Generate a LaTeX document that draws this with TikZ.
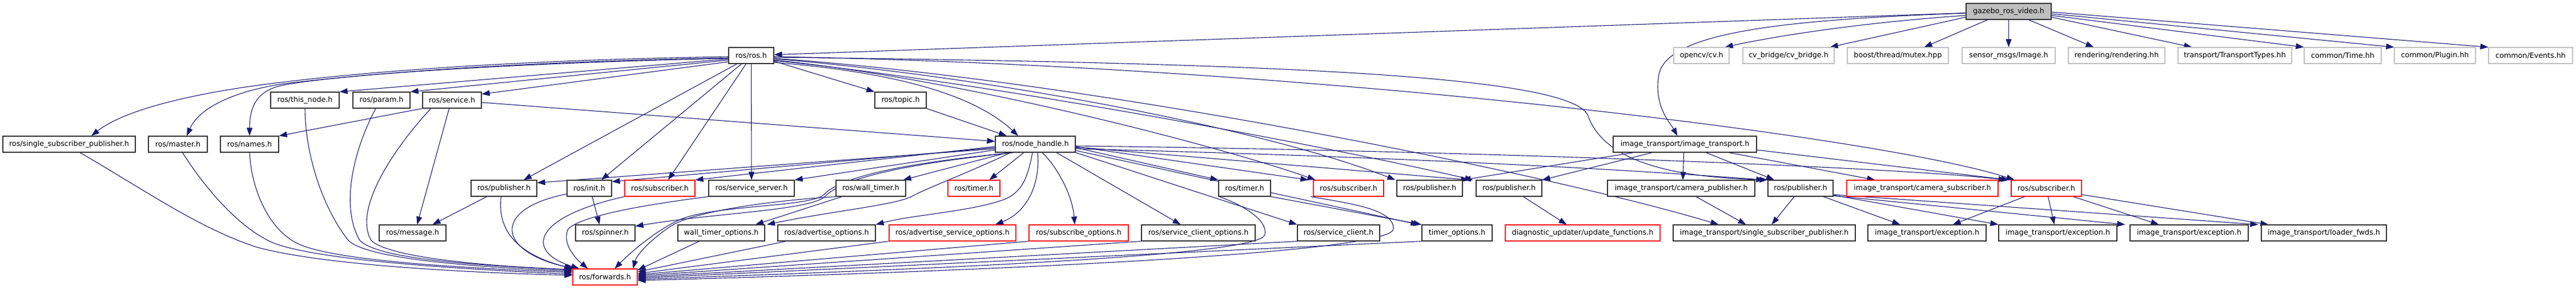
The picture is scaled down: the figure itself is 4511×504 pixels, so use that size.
\documentclass[tikz,border=0pt]{standalone}
\usepackage{fontspec}
\setmainfont{DejaVu Sans}
\usetikzlibrary{arrows.meta,backgrounds}
\definecolor{edgec}{HTML}{191970}
\definecolor{grayb}{HTML}{BFBFBF}
\tikzset{
 box/.style={draw=black!80, line width=1.2pt, rectangle, minimum height=28pt, inner sep=0pt, font=\fontsize{12.7}{15}\selectfont, text=black, fill=white},
 redbox/.style={box, draw=red},
 graybox/.style={box, draw=grayb},
 e/.style={draw=edgec, line width=1.1pt, -{Triangle[length=14pt,width=10pt]}},
}
\begin{document}
\begin{tikzpicture}[x=1pt,y=-1pt]
\useasboundingbox (0,0) rectangle (4511,504);
% row 0
\node[box, fill=grayb, minimum width=149pt] (gz) at (3517.5,20) {gazebo\_ros\_video.h};
% row 1
\node[box, minimum width=79pt] (ros) at (1315.5,97) {ros/ros.h};
\node[graybox, minimum width=97pt] (cv) at (2979.5,97) {opencv/cv.h};
\node[graybox, minimum width=160pt] (cvb) at (3132,97) {cv\_bridge/cv\_bridge.h};
\node[graybox, minimum width=177pt] (mtx) at (3323.5,97) {boost/thread/mutex.hpp};
\node[graybox, minimum width=163pt] (img) at (3517.5,97) {sensor\_msgs/Image.h};
\node[graybox, minimum width=169pt] (rend) at (3706.5,97) {rendering/rendering.hh};
\node[graybox, minimum width=199pt] (tt) at (3913.5,97) {transport/TransportTypes.hh};
\node[graybox, minimum width=135pt] (time) at (4102.5,97) {common/Time.hh};
\node[graybox, minimum width=142pt] (plug) at (4264,97) {common/Plugin.hh};
\node[graybox, minimum width=147pt] (ev) at (4431.5,97) {common/Events.hh};
% row 2
\node[box, minimum width=120pt] (tn) at (534,175) {ros/this\_node.h};
\node[box, minimum width=100pt] (par) at (668,175) {ros/param.h};
\node[box, minimum width=103pt] (srv) at (791.5,175) {ros/service.h};
\node[box, minimum width=90pt] (top) at (1577,175) {ros/topic.h};
% row 3
\node[box, minimum width=232pt] (ssp) at (121,252) {ros/single\_subscriber\_publisher.h};
\node[box, minimum width=103pt] (mas) at (311.5,252) {ros/master.h};
\node[box, minimum width=102pt] (nam) at (437,252) {ros/names.h};
\node[box, minimum width=140pt] (nh) at (1813,252) {ros/node\_handle.h};
\node[box, minimum width=251pt] (it) at (2950.5,252) {image\_transport/image\_transport.h};
% row 4
\node[box, minimum width=115pt] (pub1) at (882.5,329) {ros/publisher.h};
\node[box, minimum width=78pt] (ini) at (1032,329) {ros/init.h};
\node[redbox, minimum width=123pt] (sub1) at (1155.5,329) {ros/subscriber.h};
\node[box, minimum width=150pt] (ss) at (1316,329) {ros/service\_server.h};
\node[box, minimum width=122pt] (wt) at (1525,329) {ros/wall\_timer.h};
\node[redbox, minimum width=91pt] (tmr1) at (1705.5,329) {ros/timer.h};
\node[box, minimum width=91pt] (tmr2) at (2179.5,329) {ros/timer.h};
\node[redbox, minimum width=123pt] (sub2) at (2361.5,329) {ros/subscriber.h};
\node[box, minimum width=115pt] (pub2) at (2503.5,329) {ros/publisher.h};
\node[box, minimum width=115pt] (pub3) at (2642.5,329) {ros/publisher.h};
\node[box, minimum width=258pt] (cp) at (2944,329) {image\_transport/camera\_publisher.h};
\node[box, minimum width=114pt] (pub4) at (3153,329) {ros/publisher.h};
\node[redbox, minimum width=265pt] (cs) at (3366.5,329) {image\_transport/camera\_subscriber.h};
\node[redbox, minimum width=123pt] (sub3) at (3583.5,329) {ros/subscriber.h};
% row 5
\node[box, minimum width=117pt] (msg) at (722.5,407) {ros/message.h};
\node[box, minimum width=104pt] (spn) at (1060,407) {ros/spinner.h};
\node[box, minimum width=152pt] (wto) at (1263,407) {wall\_timer\_options.h};
\node[box, minimum width=171pt] (ao) at (1447.5,407) {ros/advertise\_options.h};
\node[redbox, minimum width=222pt] (aso) at (1668,407) {ros/advertise\_service\_options.h};
\node[redbox, minimum width=174pt] (so) at (1889,407) {ros/subscribe\_options.h};
\node[box, minimum width=199pt] (sco) at (2098.5,407) {ros/service\_client\_options.h};
\node[box, minimum width=144pt] (sc) at (2344,407) {ros/service\_client.h};
\node[box, minimum width=123pt] (to) at (2551.5,407) {timer\_options.h};
\node[redbox, minimum width=271pt] (duf) at (2771.5,407) {diagnostic\_updater/update\_functions.h};
\node[box, minimum width=319pt] (itssp) at (3089.5,407) {image\_transport/single\_subscriber\_publisher.h};
\node[box, minimum width=207pt] (ex1) at (3374.5,407) {image\_transport/exception.h};
\node[box, minimum width=207pt] (ex2) at (3603.5,407) {image\_transport/exception.h};
\node[box, minimum width=207pt] (ex3) at (3833.5,407) {image\_transport/exception.h};
\node[box, minimum width=219pt] (lf) at (4069.5,407) {image\_transport/loader\_fwds.h};
% row 6
\node[redbox, minimum width=113pt] (fw) at (1059.5,484) {ros/forwards.h};

\begin{scope}[on background layer]
% gazebo
\draw[e] (gz) -- (ros);
\draw[e] ([yshift=-7pt]gz.west) .. controls (3250,40) and (3100,65) .. ([xshift=-8pt]cv.north east);
\draw[e] ([yshift=-10pt]gz.west) -- ([xshift=-8pt]cvb.north east);
\draw[e] ([xshift=-37pt]gz.south) -- ([xshift=46pt]mtx.north);
\draw[e] (gz) -- (img);
\draw[e] ([xshift=35pt]gz.south) -- ([xshift=-40pt]rend.north);
\draw[e] ([yshift=-10pt]gz.east) -- ([xshift=-75pt]tt.north);
\draw[e] ([yshift=-7pt]gz.east) -- (time.north west);
\draw[e] ([yshift=-4pt]gz.east) -- (plug.north west);
\draw[e] ([yshift=-1pt]gz.east) -- (ev.north west);
\draw[e] ([yshift=-3pt]gz.west) .. controls (3100,35) and (2920,60) .. (2905,130) .. controls (2895,185) and (2925,215) .. ([xshift=-13pt]it.north);
% ros left
\draw[e] ([yshift=-2pt]ros.west) .. controls (900,105) and (650,125) .. (500,143) .. controls (350,160) and (220,190) .. ([xshift=39pt]ssp.north);
\draw[e] ([yshift=-4pt]ros.west) .. controls (900,108) and (650,128) .. (500,146) .. controls (420,157) and (350,185) .. ([xshift=15.5pt]mas.north);
\draw[e] ([yshift=-5pt]ros.west) .. controls (900,110) and (600,130) .. (500,148) .. controls (460,155) and (437,175) .. (nam.north);
\draw[e] ([yshift=-6pt]ros.west) -- (tn.north east);
\draw[e] ([yshift=-8pt]ros.west) -- (par.north east);
\draw[e] ([yshift=-11pt]ros.west) -- ([yshift=-4pt]srv.north east);
\draw[e] ([yshift=-10pt]ros.east) -- (top.north west);
\draw[e] ([yshift=-12pt]ros.east) .. controls (1550,125) and (1700,160) .. ([xshift=-30pt]nh.north);
\draw[e] ([xshift=-25pt]ros.south) -- ([xshift=34.5pt]pub1.north);
\draw[e] ([xshift=-17pt]ros.south) -- ([xshift=21pt]ini.north);
\draw[e] ([xshift=-9pt]ros.south) -- ([xshift=14.5pt]sub1.north);
\draw[e] (ros) -- (ss);
% ros right
\draw[e] ([yshift=-8pt]ros.east) .. controls (1700,140) and (2150,260) .. ([xshift=-58pt]sub2.north);
\draw[e] ([yshift=-6pt]ros.east) .. controls (1700,130) and (2200,220) .. ([xshift=-60pt]pub2.north);
\draw[e] ([yshift=-9pt]ros.east) .. controls (1700,140) and (2300,250) .. ([xshift=-5pt]pub3.north west);
\draw[e] ([yshift=-5pt]ros.east) .. controls (1900,140) and (2700,300) .. ([xshift=-80pt]itssp.north);
\draw[e] ([yshift=-3pt]ros.east) .. controls (2200,110) and (2740,130) .. (2780,200) .. controls (2810,290) and (2950,310) .. (pub4.north west);
\draw[e] ([yshift=-2pt]ros.east) .. controls (2300,115) and (3300,240) .. ([xshift=-56pt]sub3.north);
% node_handle left
\draw[e] ([yshift=-8pt]nh.west) -- ([yshift=-5pt]pub1.north east);
\draw[e] ([yshift=-6pt]nh.west) -- ([yshift=-3pt]ini.north east);
\draw[e] ([yshift=-4pt]nh.west) -- (sub1.north east);
\draw[e] ([yshift=-10pt]nh.west) -- (ss.north east);
\draw[e] ([xshift=-48pt]nh.south) -- ([xshift=-5pt]wt.north east);
\draw[e] ([xshift=-20pt]nh.south) -- ([xshift=27pt]tmr1.north);
\draw[e] ([xshift=-38pt]nh.south) .. controls (1580,287) and (1475,312) .. (1445,343) .. controls (1420,368) and (1250,372) .. ([yshift=-3pt]spn.north east);
\draw[e] ([xshift=-38pt]nh.south) .. controls (1580,285) and (1470,310) .. (1443,340) .. controls (1420,362) and (1250,358) .. (1190,384) .. controls (1150,402) and (1105,440) .. ([xshift=74pt]fw.north west);
\draw[e] ([xshift=-43pt]nh.south) .. controls (1700,300) and (1620,330) .. (1597,343) .. controls (1570,358) and (1450,370) .. ([xshift=80pt]wto.north);
\draw[e] ([xshift=-5pt]nh.south) .. controls (1800,310) and (1790,335) .. (1760,348) .. controls (1700,370) and (1600,375) .. (ao.north east);
\draw[e] ([xshift=4pt]nh.south) .. controls (1822,320) and (1800,370) .. ([xshift=75pt]aso.north);
\draw[e] ([xshift=12pt]nh.south) .. controls (1850,290) and (1878,340) .. ([xshift=-7pt]so.north);
\draw[e] ([xshift=37pt]nh.south) -- ([xshift=-31pt]sco.north);
% node_handle right
\draw[e] (nh.south east) -- (sc.north west);
\draw[e] ([yshift=-11pt]nh.east) -- ([xshift=-5pt]to.north west);
\draw[e] ([yshift=-6pt]nh.east) -- (tmr2.north west);
\draw[e] ([yshift=-4pt]nh.east) -- ([xshift=-8pt]sub2.north west);
\draw[e] ([yshift=-5pt]nh.east) -- ([xshift=-12pt]pub3.north west);
\draw[e] ([yshift=-8pt]nh.east) .. controls (2500,275) and (2900,300) .. ([xshift=-6pt]pub4.north west);
\draw[e] ([yshift=-3pt]nh.east) .. controls (2500,262) and (3300,290) .. ([xshift=-70pt]sub3.north);
% others upper
\draw[e] (top.south east) -- ([xshift=-50pt]nh.north);
\draw[e] ([yshift=-4pt]srv.east) -- ([yshift=5pt]nh.west);
\draw[e] (srv.south west) -- (nam.north east);
\draw[e] ([xshift=-5pt]srv.south) -- ([xshift=8pt]msg.north);
\draw[e] ([xshift=-30pt]pub1.south) -- ([xshift=35pt]msg.north);
\draw[e] ([xshift=-5pt]pub1.south) .. controls (872,390) and (890,440) .. (fw.north west);
\draw[e] ([xshift=5pt]ini.south) -- ([xshift=-10pt]spn.north);
\draw[e] ([yshift=-10pt]ini.west) .. controls (860,365) and (870,440) .. ([xshift=3pt]fw.north west);
\draw[e] (sub1.south west) .. controls (930,380) and (920,440) .. ([xshift=12pt]fw.north west);
\draw[e] (ss.south west) .. controls (1150,355) and (1020,375) .. (995,400) .. controls (985,420) and (1000,445) .. ([xshift=27pt]fw.north west);
\draw[e] ([xshift=11pt]wt.south west) -- ([xshift=60pt]wto.north);
\draw[e] (wt.south west) .. controls (1330,352) and (1210,372) .. (1175,395) .. controls (1140,418) and (1115,445) .. ([xshift=-8pt]fw.north east);
% left into forwards
\draw[e] ([xshift=19pt]ssp.south) .. controls (250,330) and (350,400) .. (450,432) .. controls (560,462) and (800,476) .. ([yshift=3pt]fw.west);
\draw[e] ([xshift=8pt]mas.south) .. controls (360,330) and (420,400) .. (480,425) .. controls (560,455) and (800,470) .. ([yshift=5pt]fw.west);
\draw[e] (nam.south) .. controls (440,330) and (470,400) .. (520,425) .. controls (580,455) and (800,468) .. ([yshift=8pt]fw.west);
\draw[e] (tn.south) .. controls (535,280) and (570,370) .. (610,420) .. controls (640,450) and (800,465) .. ([yshift=10pt]fw.west);
\draw[e] ([xshift=-10pt]par.south) .. controls (620,260) and (595,360) .. (630,420) .. controls (660,450) and (800,462) .. ([yshift=12pt]fw.west);
\draw[e] ([xshift=-37pt]srv.south) .. controls (680,270) and (620,370) .. (650,420) .. controls (680,450) and (850,465) .. ([yshift=13pt]fw.west);
% right into forwards
\draw[e] ([xshift=38pt]wto.south west) -- ([yshift=12pt]fw.east);
\draw[e] ([xshift=15pt]ao.south west) -- ([yshift=9pt]fw.east);
\draw[e] (aso.south west) -- ([yshift=6pt]fw.east);
\draw[e] (so.south west) -- ([yshift=4pt]fw.east);
\draw[e] (sco.south west) -- ([yshift=2pt]fw.east);
\draw[e] (sc.south west) -- (fw.east);
\draw[e] (to.south west) -- ([yshift=-2pt]fw.east);
\draw[e] ([xshift=2pt]tmr2.south west) .. controls (2180,360) and (2220,385) .. (2215,410) .. controls (2208,445) and (1700,468) .. ([yshift=-4pt]fw.east);
\draw[e] ([xshift=-4pt]sub2.south west) .. controls (2360,355) and (2442,365) .. (2440,400) .. controls (2438,440) and (1800,472) .. ([yshift=-6pt]fw.east);
\draw[e] (tmr2.south east) -- (to.north west);
% image transport
\draw[e] ([xshift=-90pt]it.south) -- (pub2.north east);
\draw[e] ([xshift=-57pt]it.south) -- (pub3.north east);
\draw[e] ([xshift=-2pt]it.south) -- ([xshift=3pt]cp.north);
\draw[e] ([xshift=37pt]it.south) -- ([xshift=-46pt]pub4.north);
\draw[e] ([xshift=77pt]it.south) -- ([xshift=-83pt]cs.north);
\draw[e] ([yshift=-10pt]it.east) -- ([xshift=-65pt]sub3.north);
\draw[e] ([xshift=26pt]cp.south) -- ([xshift=-32pt]itssp.north);
\draw[e] ([xshift=-11pt]pub4.south) -- ([xshift=13pt]itssp.north);
\draw[e] ([xshift=40pt]pub4.south) -- ([xshift=-47pt]ex1.north);
\draw[e] ([yshift=-12pt]pub4.east) -- (ex2.north west);
\draw[e] ([yshift=-13pt]pub4.east) -- ([xshift=-8pt]ex3.north west);
\draw[e] ([yshift=-11pt]pub4.east) -- ([xshift=-5pt]lf.north west);
\draw[e] ([xshift=-38pt]sub3.south) -- ([xshift=45pt]ex1.north);
\draw[e] ([xshift=3pt]sub3.south) -- ([xshift=-6pt]ex2.north);
\draw[e] ([xshift=47pt]sub3.south) -- ([xshift=-53pt]ex3.north);
\draw[e] ([yshift=-11pt]sub3.east) -- ([xshift=13pt]lf.north west);
\draw[e] ([xshift=25pt]pub3.south) -- ([xshift=-28pt]duf.north);
\end{scope}
\end{tikzpicture}
\end{document}
